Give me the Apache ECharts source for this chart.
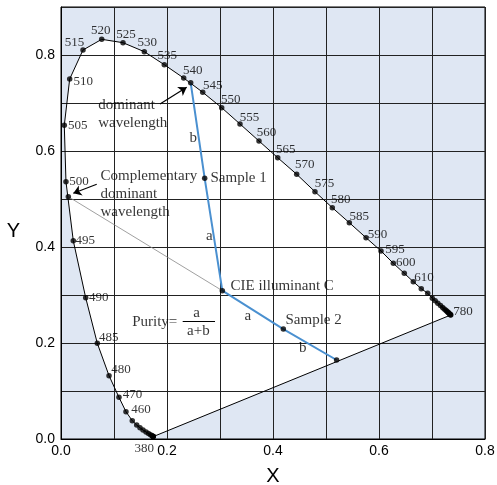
<!DOCTYPE html>
<html><head><meta charset="utf-8">
<script src="https://cdn.jsdelivr.net/npm/echarts@6/dist/echarts.min.js"></script>
<style>html,body{margin:0;padding:0;background:#fff}#c{width:497px;height:485px}</style>
</head><body><div id="c"></div>
<script>
// Spectral locus (chromaticity x, y), from 380 nm to 780 nm
const locusLabel = ['380','','','','','','','','','','','','460','470','480','485','490','495','500','505','510','515','520','525','530','535','540','545','550','555','560','565','570','575','580','585','590','595','600','','610','','','','','','','','','','','','','','','','780'];
const locusX = [0.1741,0.1740,0.1738,0.1732,0.1717,0.1689,0.1651,0.1604,0.1547,0.1490,0.1428,0.1345,0.1226,0.1094,0.0906,0.0685,0.0466,0.0232,0.0094,0.0062,0.0164,0.0415,0.0768,0.1170,0.1572,0.1949,0.2315,0.2674,0.3032,0.3377,0.3736,0.4089,0.4447,0.4792,0.5119,0.5440,0.5755,0.6038,0.6270,0.6477,0.6647,0.6798,0.6919,0.7006,0.7060,0.7110,0.7160,0.7200,0.7230,0.7260,0.7280,0.7300,0.7310,0.7330,0.7340,0.7350,0.7353];
const locusY = [0.0050,0.0050,0.0053,0.0058,0.0069,0.0088,0.0115,0.0146,0.0188,0.0235,0.0292,0.0381,0.0569,0.0868,0.1320,0.1994,0.2944,0.4131,0.5360,0.6535,0.7500,0.8104,0.8327,0.8256,0.8069,0.7798,0.7520,0.7223,0.6902,0.6563,0.6208,0.5860,0.5515,0.5152,0.4819,0.4506,0.4194,0.3917,0.3660,0.3452,0.3277,0.3131,0.3035,0.2931,0.2880,0.2830,0.2780,0.2740,0.2710,0.2680,0.2660,0.2640,0.2630,0.2610,0.2600,0.2590,0.2583];

// Dominant-wavelength construction: locus point, Sample 1, illuminant C, Sample 2, purple-line point
const pathX = [0.2447,0.2711,0.3044,0.4195,0.5200];
const pathY = [0.7420,0.5430,0.3090,0.2290,0.1646];
// Complementary dominant wavelength point on the locus
const complX = [0.0138];
const complY = [0.5048];

// Arrows
const arrowFromX = [0.1868,0.0674];
const arrowFromY = [0.6980,0.5306];
const arrowToX = [0.2372,0.0232];
const arrowToY = [0.7327,0.5119];

// Left-anchored annotations
const noteText = ['dominant','wavelength','Complementary','dominant','wavelength','Sample 1','CIE illuminant C','Sample 2','Purity='];
const noteX = [0.0692,0.0692,0.0736,0.0736,0.0736,0.2811,0.3189,0.4226,0.1334];
const noteY = [0.6958,0.6583,0.5479,0.5104,0.4729,0.5438,0.3187,0.2479,0.2438];
// Centred annotations
const centerText = ['b','a','a','b','a','a+b'];
const centerX = [0.2496,0.2798,0.3523,0.4560,0.2560,0.2591];
const centerY = [0.6277,0.4229,0.2569,0.1890,0.2619,0.2256];
// Fraction bar
const barX = [0.2296,0.2906];
const barY = [0.2458,0.2458];

const xTickValues = [0,0.2,0.4,0.6,0.8];
const xTickLabels = ['0.0','0.2','0.4','0.6','0.8'];
const yTickValues = [0,0.2,0.4,0.6,0.8];
const yTickLabels = ['0.0','0.2','0.4','0.6','0.8'];

// label placement (style) for wavelength numbers, offset from dot centre in px
const labelOffset = {
 '380':[-9,11.5],'460':[15,-2],'470':[13.5,-3],'480':[12,-6],'485':[11.5,-5.5],'490':[13,0],'495':[12,0],
 '500':[13,0],'505':[13.5,0],'510':[13.5,2.7],'515':[-8.5,-7.3],'520':[-1,-8.6],'525':[3,-8.4],
 '530':[3,-8.7],'535':[3,-8.7],'540':[9,-7.3],'545':[10,-6.6],'550':[9,-8.4],'555':[9.5,-6.7],
 '560':[7.5,-8.3],'565':[8,-7.7],'570':[8,-9.3],'575':[9.5,-7.7],'580':[8.5,-7.7],'585':[10,-6],
 '590':[11.5,-3.4],'595':[14,-1.7],'600':[12.5,-0.6],'610':[10.7,-4.4],'780':[12.3,-3.3]
};

const serif = 'Liberation Serif';
const sans = 'Liberation Sans';
function pick(vals, labels){
  return function(v){ const i = vals.findIndex(t => Math.abs(t - v) < 1e-6); return i >= 0 ? labels[i] : ''; };
}
const locusPts = locusX.map((x,i)=>[x, locusY[i]]);
const nLast = locusX.length - 1;

const chart = echarts.init(document.getElementById('c'), null, {renderer:'canvas'});
chart.setOption({
  animation:false,
  backgroundColor:'#ffffff',
  grid:{left:61,right:12,top:7,bottom:46,show:true,backgroundColor:'#dfe7f3',borderColor:'#000',borderWidth:1,containLabel:false,outerBoundsMode:'none'},
  xAxis:{type:'value',min:0,max:0.8,interval:0.1,z:3,
    name:'X',nameLocation:'middle',nameGap:27,nameTextStyle:{fontFamily:sans,fontSize:20,color:'#000'},
    axisLine:{show:true,lineStyle:{color:'#000',width:1}},axisTick:{show:false},
    axisLabel:{formatter:pick(xTickValues,xTickLabels),fontFamily:sans,fontSize:14,color:'#000',margin:5,showMaxLabel:true,showMinLabel:true},
    splitLine:{show:true,lineStyle:{color:'#222',width:1}}},
  yAxis:{type:'value',min:0,max:0.9,interval:0.1,z:3,
    name:'Y',nameLocation:'middle',nameRotate:0,nameGap:41,nameTextStyle:{fontFamily:sans,fontSize:20,color:'#000',verticalAlign:'top',lineHeight:17},
    axisLine:{show:true,lineStyle:{color:'#000',width:1}},axisTick:{show:false},
    axisLabel:{formatter:pick(yTickValues,yTickLabels),fontFamily:sans,fontSize:14,color:'#000',margin:6,showMaxLabel:true},
    splitLine:{show:true,lineStyle:{color:'#222',width:1}}},
  series:[
    {type:'custom',z:1,silent:true,data:[0],
     renderItem:function(params, api){
       const pts = locusPts.map(p => api.coord(p));
       return {type:'polygon',shape:{points:pts},style:{fill:'#ffffff'}};
     }},
    {type:'line',z:5,silent:true,data:locusPts,showSymbol:false,lineStyle:{color:'#000',width:1}},
    {type:'line',z:5,silent:true,data:[locusPts[0],locusPts[nLast]],showSymbol:false,lineStyle:{color:'#000',width:1}},
    {type:'line',z:5,silent:true,data:[[complX[0],complY[0]],[pathX[2],pathY[2]]],showSymbol:false,lineStyle:{color:'#888',width:0.8}},
    {type:'line',z:6,silent:true,data:pathX.map((x,i)=>[x,pathY[i]]),showSymbol:false,lineStyle:{color:'#4a90d0',width:2}},
    {type:'lines',coordinateSystem:'cartesian2d',z:7,silent:true,symbol:['none','arrow'],symbolSize:8,
     lineStyle:{color:'#000',width:1.2,opacity:1},
     data:arrowFromX.map((x,i)=>({coords:[[x,arrowFromY[i]],[arrowToX[i],arrowToY[i]]]}))},
    {type:'lines',coordinateSystem:'cartesian2d',z:7,silent:true,symbol:'none',
     lineStyle:{color:'#000',width:1,opacity:1},
     data:[{coords:[[barX[0],barY[0]],[barX[1],barY[1]]]}]},
    {type:'scatter',z:8,silent:true,symbolSize:5.5,itemStyle:{color:'#000'},
     data:locusPts.map((p,i)=>{
       const lab = locusLabel[i];
       return {value:p,label:{show:lab!=='',formatter:lab,position:'inside',offset:labelOffset[lab]||[0,0],
         color:'#000',fontFamily:serif,fontSize:13}};
     })},
    {type:'scatter',z:8,silent:true,symbolSize:5.5,itemStyle:{color:'#000'},
     data:pathX.map((x,i)=>[x,pathY[i]]).concat([[complX[0],complY[0]]])},
    {type:'scatter',z:9,silent:true,symbolSize:1,itemStyle:{color:'rgba(0,0,0,0)'},
     label:{show:true,position:'right',distance:0,color:'#000',fontFamily:serif,fontSize:15,
       formatter:p=>noteText[p.dataIndex]},
     data:noteX.map((x,i)=>[x,noteY[i]])},
    {type:'scatter',z:9,silent:true,symbolSize:1,itemStyle:{color:'rgba(0,0,0,0)'},
     label:{show:true,position:'inside',color:'#000',fontFamily:serif,fontSize:15,
       formatter:p=>centerText[p.dataIndex]},
     data:centerX.map((x,i)=>[x,centerY[i]])}
  ]
});
</script>
</body></html>
